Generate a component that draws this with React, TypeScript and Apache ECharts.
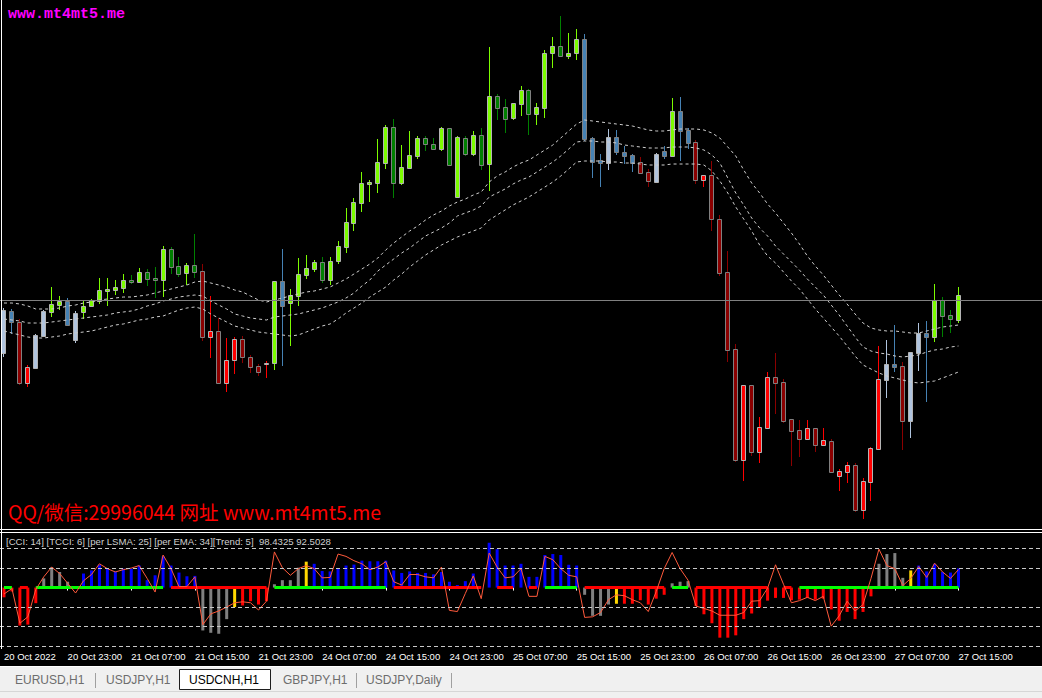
import React, { useEffect, useRef } from "react";
import * as echarts from "echarts";

// ---------- DATA (USDCNH, H1) ----------
const timeLabels = [
  "20 Oct 2022", "20 Oct 23:00", "21 Oct 07:00", "21 Oct 15:00", "21 Oct 23:00",
  "24 Oct 07:00", "24 Oct 15:00", "24 Oct 23:00", "25 Oct 07:00", "25 Oct 15:00",
  "25 Oct 23:00", "26 Oct 07:00", "26 Oct 15:00", "26 Oct 23:00", "27 Oct 07:00", "27 Oct 15:00",
];
const barsPerLabel = 8;
const slotCount = 131;

const open = [
  7.247, 7.289, 7.278, 7.217, 7.232, 7.264, 7.288, 7.295, 7.299, 7.260,
  7.288, 7.294, 7.299, 7.309, 7.310, 7.312, 7.320, 7.318, 7.328, 7.322,
  7.320, 7.351, 7.334, 7.327, 7.335, 7.329, 7.263, 7.269, 7.217, 7.240,
  7.261, 7.243, 7.234, 7.236, 7.237, 7.319, 7.297, 7.304, 7.325, 7.331,
  7.338, 7.320, 7.339, 7.353, 7.377, 7.397, 7.416, 7.417, 7.437, 7.473,
  7.417, 7.432, 7.444, 7.462, 7.456, 7.451, 7.472, 7.403, 7.462, 7.446,
  7.465, 7.436, 7.504, 7.493, 7.482, 7.496, 7.510, 7.486, 7.492, 7.547,
  7.554, 7.544, 7.547, 7.561, 7.462, 7.440, 7.437, 7.463, 7.448, 7.445,
  7.438, 7.428, 7.418, 7.449, 7.444, 7.489, 7.470, 7.458, 7.420, 7.425,
  7.381, 7.328, 7.251, 7.140, 7.215, 7.148, 7.172, 7.223, 7.218, 7.181,
  7.170, 7.161, 7.172, 7.155, 7.159, 7.124, 7.128, 7.135, 7.090, 7.118,
  7.151, 7.220, 7.236, 7.234, 7.179, 7.247, 7.267, 7.263, 7.300, 7.285,
  7.280,
];
const high = [
  7.292, 7.291, 7.281, 7.235, 7.266, 7.290, 7.313, 7.304, 7.302, 7.289,
  7.299, 7.301, 7.322, 7.322, 7.320, 7.326, 7.325, 7.332, 7.331, 7.333,
  7.354, 7.353, 7.343, 7.337, 7.366, 7.336, 7.304, 7.282, 7.262, 7.263,
  7.264, 7.245, 7.236, 7.239, 7.319, 7.351, 7.311, 7.342, 7.345, 7.340,
  7.343, 7.343, 7.359, 7.392, 7.402, 7.428, 7.420, 7.461, 7.475, 7.481,
  7.455, 7.469, 7.464, 7.464, 7.462, 7.473, 7.472, 7.464, 7.464, 7.469,
  7.472, 7.553, 7.506, 7.501, 7.497, 7.514, 7.511, 7.497, 7.550, 7.563,
  7.584, 7.567, 7.571, 7.566, 7.463, 7.446, 7.471, 7.470, 7.454, 7.446,
  7.443, 7.431, 7.447, 7.454, 7.502, 7.503, 7.472, 7.460, 7.425, 7.439,
  7.385, 7.349, 7.256, 7.215, 7.215, 7.183, 7.228, 7.247, 7.221, 7.181,
  7.180, 7.180, 7.172, 7.172, 7.161, 7.131, 7.138, 7.137, 7.122, 7.153,
  7.254, 7.260, 7.275, 7.238, 7.248, 7.277, 7.279, 7.316, 7.303, 7.290,
  7.313,
];
const low = [
  7.244, 7.267, 7.216, 7.214, 7.232, 7.264, 7.284, 7.291, 7.275, 7.258,
  7.282, 7.294, 7.297, 7.295, 7.306, 7.308, 7.317, 7.318, 7.315, 7.303,
  7.304, 7.327, 7.324, 7.316, 7.323, 7.260, 7.243, 7.217, 7.209, 7.227,
  7.238, 7.228, 7.225, 7.223, 7.231, 7.235, 7.255, 7.295, 7.322, 7.329,
  7.318, 7.316, 7.337, 7.348, 7.370, 7.389, 7.399, 7.408, 7.432, 7.403,
  7.416, 7.432, 7.442, 7.450, 7.451, 7.450, 7.435, 7.403, 7.445, 7.445,
  7.431, 7.410, 7.481, 7.468, 7.481, 7.485, 7.466, 7.476, 7.483, 7.533,
  7.544, 7.542, 7.541, 7.460, 7.423, 7.414, 7.431, 7.446, 7.437, 7.429,
  7.427, 7.414, 7.418, 7.442, 7.444, 7.440, 7.452, 7.417, 7.414, 7.370,
  7.325, 7.239, 7.139, 7.120, 7.145, 7.138, 7.172, 7.187, 7.178, 7.135,
  7.144, 7.161, 7.149, 7.155, 7.128, 7.110, 7.118, 7.089, 7.082, 7.100,
  7.151, 7.203, 7.229, 7.151, 7.163, 7.230, 7.199, 7.259, 7.264, 7.268,
  7.278,
];
const close = [
  7.290, 7.278, 7.217, 7.233, 7.265, 7.289, 7.296, 7.299, 7.275, 7.287,
  7.294, 7.300, 7.310, 7.311, 7.313, 7.320, 7.318, 7.328, 7.321, 7.320,
  7.351, 7.333, 7.326, 7.335, 7.328, 7.263, 7.269, 7.217, 7.240, 7.261,
  7.243, 7.233, 7.228, 7.237, 7.319, 7.294, 7.305, 7.326, 7.332, 7.338,
  7.320, 7.339, 7.354, 7.378, 7.398, 7.417, 7.418, 7.438, 7.473, 7.417,
  7.433, 7.445, 7.462, 7.456, 7.451, 7.472, 7.435, 7.463, 7.446, 7.465,
  7.435, 7.504, 7.492, 7.481, 7.497, 7.510, 7.486, 7.493, 7.547, 7.554,
  7.544, 7.547, 7.561, 7.461, 7.438, 7.437, 7.463, 7.448, 7.444, 7.437,
  7.427, 7.419, 7.446, 7.444, 7.489, 7.469, 7.457, 7.420, 7.425, 7.381,
  7.327, 7.250, 7.140, 7.215, 7.148, 7.173, 7.223, 7.217, 7.179, 7.169,
  7.161, 7.172, 7.155, 7.160, 7.128, 7.129, 7.135, 7.090, 7.119, 7.152,
  7.221, 7.236, 7.233, 7.179, 7.248, 7.267, 7.263, 7.300, 7.284, 7.281,
  7.305,
];
// candle trend colouring: U = up (green), N = neutral (steel blue), D = down (red)
const trend =
  "NNDDNNUUNN" + "UUUUUUUUUU" + "UUUUUDDDDD" + "DDDDUNUUUU" + "UUUUUUUUUU" +
  "UUUUUUUUUU" + "UUUUUUUUUU" + "UUUNNNNNNN" + "DDNNUNNDDD" + "DDDDDDDDDD" +
  "DDDDDDDDDD" + "DNNDNNNUUU" + "U";

const bandUpper = [
  7.297, 7.297, 7.296, 7.294, 7.291, 7.291, 7.291, 7.292, 7.294, 7.295,
  7.297, 7.298, 7.300, 7.301, 7.302, 7.303, 7.303, 7.304, 7.305, 7.307,
  7.309, 7.311, 7.313, 7.315, 7.318, 7.319, 7.317, 7.315, 7.313, 7.310,
  7.308, 7.304, 7.300, 7.298, 7.300, 7.302, 7.304, 7.306, 7.308, 7.309,
  7.311, 7.313, 7.317, 7.321, 7.326, 7.331, 7.336, 7.342, 7.350, 7.357,
  7.363, 7.369, 7.374, 7.380, 7.385, 7.389, 7.394, 7.398, 7.401, 7.405,
  7.408, 7.418, 7.424, 7.428, 7.433, 7.437, 7.440, 7.445, 7.450, 7.455,
  7.462, 7.469, 7.476, 7.480, 7.479, 7.478, 7.477, 7.476, 7.475, 7.474,
  7.472, 7.470, 7.469, 7.469, 7.470, 7.471, 7.471, 7.471, 7.470, 7.467,
  7.462, 7.453, 7.444, 7.430, 7.417, 7.407, 7.396, 7.387, 7.377, 7.367,
  7.356, 7.344, 7.334, 7.325, 7.315, 7.305, 7.296, 7.286, 7.277, 7.272,
  7.270, 7.269, 7.269, 7.268, 7.267, 7.267, 7.269, 7.271, 7.273, 7.274,
  7.275,
];
const bandMiddle = [
  7.281, 7.280, 7.279, 7.277, 7.277, 7.277, 7.278, 7.279, 7.280, 7.281,
  7.282, 7.283, 7.284, 7.285, 7.287, 7.288, 7.289, 7.291, 7.294, 7.296,
  7.299, 7.301, 7.303, 7.304, 7.305, 7.304, 7.299, 7.295, 7.291, 7.286,
  7.284, 7.282, 7.281, 7.280, 7.283, 7.284, 7.285, 7.286, 7.288, 7.290,
  7.292, 7.295, 7.298, 7.302, 7.307, 7.314, 7.320, 7.329, 7.335, 7.341,
  7.347, 7.352, 7.358, 7.364, 7.368, 7.372, 7.377, 7.384, 7.387, 7.390,
  7.394, 7.403, 7.407, 7.411, 7.416, 7.420, 7.423, 7.428, 7.433, 7.438,
  7.444, 7.451, 7.458, 7.459, 7.459, 7.458, 7.458, 7.457, 7.455, 7.454,
  7.453, 7.452, 7.452, 7.452, 7.453, 7.453, 7.453, 7.452, 7.450, 7.445,
  7.437, 7.422, 7.407, 7.395, 7.382, 7.372, 7.364, 7.354, 7.346, 7.338,
  7.330, 7.321, 7.313, 7.305, 7.295, 7.285, 7.274, 7.263, 7.253, 7.249,
  7.247, 7.246, 7.244, 7.243, 7.244, 7.245, 7.248, 7.250, 7.251, 7.253,
  7.254,
];
const bandLower = [
  7.269, 7.267, 7.265, 7.263, 7.262, 7.262, 7.263, 7.264, 7.266, 7.267,
  7.268, 7.269, 7.271, 7.273, 7.275, 7.276, 7.278, 7.280, 7.281, 7.283,
  7.284, 7.287, 7.290, 7.292, 7.293, 7.291, 7.286, 7.282, 7.278, 7.274,
  7.272, 7.270, 7.268, 7.267, 7.266, 7.265, 7.264, 7.265, 7.268, 7.271,
  7.274, 7.276, 7.281, 7.287, 7.292, 7.297, 7.303, 7.308, 7.313, 7.320,
  7.326, 7.333, 7.339, 7.345, 7.350, 7.355, 7.359, 7.363, 7.366, 7.369,
  7.372, 7.380, 7.385, 7.390, 7.395, 7.399, 7.403, 7.408, 7.413, 7.418,
  7.424, 7.431, 7.438, 7.439, 7.439, 7.439, 7.438, 7.438, 7.437, 7.437,
  7.436, 7.435, 7.435, 7.435, 7.436, 7.436, 7.436, 7.436, 7.435, 7.429,
  7.419, 7.407, 7.393, 7.381, 7.369, 7.355, 7.344, 7.337, 7.328, 7.319,
  7.311, 7.301, 7.291, 7.282, 7.273, 7.264, 7.254, 7.244, 7.235, 7.231,
  7.227, 7.224, 7.222, 7.220, 7.218, 7.217, 7.218, 7.219, 7.222, 7.225,
  7.228,
];

// indicator: CCI histogram, its colour state, TCCI line and zero-line trend state
const cciHist = [
  -50, -20, -195, -190, -80, 47, 105, 80, 30, 8,
  72, 88, 117, 97, 83, 97, 97, 113, 38, 63,
  160, 113, 77, 58, 60, -220, -232, -237, -162, -100,
  -92, -70, -87, -70, 17, 38, 38, 102, 133, 122,
  85, 83, 97, 113, 118, 138, 135, 135, 138, 88,
  75, 83, 75, 75, 68, 80, 30, 13, 33, 72,
  0, 230, 197, 113, 113, 122, 55, 55, 167, 172,
  167, 117, 113, -37, -145, -145, -87, -83, -83, -83,
  -65, -87, -57, -37, 22, 30, 33, -95, -137, -183,
  -257, -257, -245, -162, -133, -103, -67, -53, -53, -65,
  -62, -53, -62, -57, -112, -170, -125, -162, -125, -45,
  122, 172, 177, 50, 88, 113, 83, 122, 80, 77,
  98.4325,
];
const histState =
  "RRRRRSSSSY" + "BBBBBBBBBB" + "BBBBBSSSSY" + "RRRRSSSSYB" + "BBBBBBBBBB" +
  "BBBBBBBBBB" + "BBBBBBBBBB" + "BBBSSSSYRR" + "RRRRSSSRRR" + "RRRRRRRRRR" +
  "RRRRRRRRRR" + "SSSSYBBBBB" + "B";
const tcci = [
  -33, -5, -183, -150, -10, 55, 105, 72, 22, -28,
  35, 67, 122, 97, 80, 92, 100, 113, 47, -23,
  167, 97, 5, 5, 55, -190, -135, -120, -100, -78,
  -73, -78, -115, -70, 183, 102, 63, 97, 113, 97,
  50, 52, 172, 160, 138, 122, 92, 105, 133, 30,
  13, 67, 67, 55, 50, 105, -117, -123, -30, 60,
  -57, 177, 105, 50, 55, 97, -45, -45, 160, 143,
  97, 63, 55, -153, -150, -128, -62, -37, -42, -62,
  -78, -123, -20, 97, 180, 97, 38, -95, -107, -120,
  -142, -142, -142, -128, -70, -67, -3, 117, 17, -78,
  -67, -50, -67, -45, -198, -145, -70, -120, -87, 47,
  197, 113, 97, 10, 47, 108, 52, 125, 80, 47,
  92.5028,
];
const zeroState =
  "ggrrgggggg" + "gggggggggg" + "grrrrrrrrr" + "rrrrgggggg" + "gggggggggr" +
  "rrrrrrrrrr" + "r-rrr-rrgg" + "gggrrrrrrr" + "rrrrgggrrr" + "rrrrrrr-rr" +
  "gggggggggg" + "gggggggggg" + "g";
const levels = [200, 100, -100, -200, -300];

const tabNames = ["EURUSD,H1", "USDJPY,H1", "USDCNH,H1", "GBPJPY,H1", "USDJPY,Daily"];
const activeTab = 2;

// ---------- STYLES ----------
const candleColors: Record<string, { bull: string; bear: string }> = {
  U: { bull: "#7cfc00", bear: "#008000" },
  N: { bull: "#b0c4de", bear: "#4682b4" },
  D: { bull: "#ff0000", bear: "#8b0000" },
};
const histColors: Record<string, string> = {
  B: "#0000ff",
  S: "#808080",
  Y: "#ffd700",
  R: "#ff0000",
};
const tabX = [15, 106, 189, 283, 366];
const sepX = [95.5, 356.5, 451.5];

function buildOption() {
  const cats = Array.from({ length: slotCount }, (_, i) => String(i));
  const labelInterval = (idx: number) =>
    idx % barsPerLabel === 0 && idx / barsPerLabel < timeLabels.length;

  const candleData = open.map((o, i) => [i, o, close[i], low[i], high[i]]);

  const renderCandle = (params: any, api: any) => {
    const i = params.dataIndex;
    const o = api.value(1);
    const c = api.value(2);
    const l = api.value(3);
    const h = api.value(4);
    const pO = api.coord([i, o]);
    const pC = api.coord([i, c]);
    const pL = api.coord([i, l]);
    const pH = api.coord([i, h]);
    const x = Math.round(pO[0] - 0.5) + 0.5;
    const bull = c >= o;
    const pal = candleColors[trend[i]] || candleColors.N;
    const col = bull ? pal.bull : pal.bear;
    const top = Math.round(Math.min(pO[1], pC[1])) + 0.5;
    const bot = Math.round(Math.max(pO[1], pC[1])) + 0.5;
    return {
      type: "group",
      children: [
        {
          type: "line",
          shape: { x1: x, y1: Math.round(pH[1]), x2: x, y2: Math.round(pL[1]) + 1 },
          style: { stroke: col, lineWidth: 1 },
        },
        {
          type: "rect",
          shape: { x: x - 2, y: top, width: 4, height: Math.max(bot - top, 1) },
          style: { fill: col, stroke: bull ? "#b4b4b4" : "#808080", lineWidth: 1 },
        },
      ],
    };
  };

  const bandStyle = { color: "#cfcfcf", width: 1, type: [3, 3] as any };
  const bandSeries = (data: number[]) => ({
    type: "line",
    xAxisIndex: 0,
    yAxisIndex: 0,
    data,
    symbol: "none",
    silent: true,
    lineStyle: bandStyle,
    z: 3,
  });

  const lastClose = close[close.length - 1];

  return {
    animation: false,
    backgroundColor: "#000000",
    grid: [
      { left: -1.5, top: 0, width: slotCount * 8, height: 528 },
      { left: -1.5, top: 533, width: slotCount * 8, height: 115 },
    ],
    xAxis: [
      {
        type: "category",
        gridIndex: 0,
        data: cats,
        boundaryGap: true,
        axisLine: { show: false },
        axisTick: { show: false },
        axisLabel: { show: false },
        splitLine: { show: false },
      },
      {
        type: "category",
        gridIndex: 1,
        data: cats,
        boundaryGap: true,
        axisLine: { show: false },
        axisTick: {
          show: true,
          alignWithLabel: true,
          interval: labelInterval,
          length: 3,
          lineStyle: { color: "#ffffff", width: 1 },
        },
        axisLabel: {
          interval: labelInterval,
          formatter: (_v: string, idx: number) => timeLabels[idx / barsPerLabel] || "",
          color: "#ffffff",
          fontSize: 9.5,
          fontFamily: "Liberation Sans, Arial, sans-serif",
          align: "left",
          margin: 3,
        },
        splitLine: { show: false },
      },
    ],
    yAxis: [
      { type: "value", gridIndex: 0, min: 7.072, max: 7.6, show: false, splitLine: { show: false } },
      { type: "value", gridIndex: 1, min: -310, max: 280, show: false, splitLine: { show: false } },
    ],
    series: [
      {
        type: "custom",
        xAxisIndex: 0,
        yAxisIndex: 0,
        data: candleData,
        encode: { x: 0, y: [1, 2, 3, 4] },
        renderItem: renderCandle,
        silent: true,
        z: 2,
      },
      bandSeries(bandUpper),
      {
        ...bandSeries(bandMiddle),
        markLine: {
          silent: true,
          symbol: ["none", "none"],
          label: { show: false },
          lineStyle: { color: "#808080", type: "solid", width: 1 },
          data: [{ yAxis: lastClose }],
        },
      },
      bandSeries(bandLower),
      {
        type: "bar",
        xAxisIndex: 1,
        yAxisIndex: 1,
        barWidth: 3,
        silent: true,
        data: cciHist.map((v, i) => ({
          value: v,
          itemStyle: { color: histColors[histState[i]] },
        })),
        markLine: {
          silent: true,
          symbol: ["none", "none"],
          label: { show: false },
          lineStyle: { color: "#c8c8c8", type: [4, 3], width: 1 },
          data: levels.map((v) => ({ yAxis: v })),
        },
        z: 2,
      },
      {
        type: "line",
        xAxisIndex: 1,
        yAxisIndex: 1,
        symbol: "none",
        silent: true,
        data: zeroState.split("").map((s) => (s === "g" ? 0 : null)),
        lineStyle: { color: "#00ff00", width: 3 },
        z: 3,
      },
      {
        type: "line",
        xAxisIndex: 1,
        yAxisIndex: 1,
        symbol: "none",
        silent: true,
        data: zeroState.split("").map((s) => (s === "r" ? 0 : null)),
        lineStyle: { color: "#ff0000", width: 3 },
        z: 3,
      },
      {
        type: "line",
        xAxisIndex: 1,
        yAxisIndex: 1,
        symbol: "none",
        silent: true,
        data: tcci,
        lineStyle: { color: "#ff5a3c", width: 1 },
        z: 4,
      },
    ],
    graphic: [
      { type: "line", z: 50, shape: { x1: 1.5, y1: 0, x2: 1.5, y2: 649 }, style: { stroke: "#ffffff", lineWidth: 1 } },
      { type: "line", z: 50, shape: { x1: 0, y1: 529.5, x2: 1042, y2: 529.5 }, style: { stroke: "#ffffff", lineWidth: 1 } },
      { type: "line", z: 50, shape: { x1: 0, y1: 532.5, x2: 1042, y2: 532.5 }, style: { stroke: "#ffffff", lineWidth: 1 } },
      {
        type: "text",
        z: 60,
        x: 8,
        y: 14,
        style: {
          text: "www.mt4mt5.me",
          fill: "#ff00ff",
          font: 'bold 15px "Liberation Mono", "DejaVu Sans Mono", monospace',
          verticalAlign: "middle",
          align: "left",
        },
      },
      {
        type: "text",
        z: 60,
        x: 8,
        y: 511,
        style: {
          text: "QQ/微信:29996044 网址 www.mt4mt5.me",
          fill: "#ff0000",
          font: '19.5px "Noto Sans CJK SC", "Noto Sans", sans-serif',
          verticalAlign: "middle",
          align: "left",
        },
      },
      {
        type: "text",
        z: 60,
        x: 6,
        y: 541,
        style: {
          text: "[CCI: 14] [TCCI: 6] [per LSMA: 25] [per EMA: 34][Trend: 5]  98.4325 92.5028",
          fill: "#cfcfcf",
          font: '9.6px "Liberation Sans", Arial, sans-serif',
          verticalAlign: "middle",
          align: "left",
        },
      },
      { type: "rect", z: 40, shape: { x: 0, y: 666, width: 1042, height: 32 }, style: { fill: "#f0f0f0" } },
      { type: "line", z: 41, shape: { x1: 0, y1: 666.5, x2: 1042, y2: 666.5 }, style: { stroke: "#ffffff", lineWidth: 1 } },
      { type: "line", z: 41, shape: { x1: 0, y1: 691.5, x2: 1042, y2: 691.5 }, style: { stroke: "#d6d6d6", lineWidth: 1 } },
      {
        type: "rect",
        z: 42,
        shape: { x: 179.5, y: 669.5, width: 91, height: 20 },
        style: { fill: "#ffffff", stroke: "#1e1e1e", lineWidth: 1 },
      },
      ...sepX.map((x) => ({
        type: "line",
        z: 42,
        shape: { x1: x, y1: 673, x2: x, y2: 688 },
        style: { stroke: "#a0a0a0", lineWidth: 1 },
      })),
      ...tabNames.map((name, k) => ({
        type: "text",
        z: 43,
        x: tabX[k],
        y: 680,
        style: {
          text: name,
          fill: k === activeTab ? "#000000" : "#6d6d6d",
          font: '12px "Liberation Sans", Arial, sans-serif',
          verticalAlign: "middle",
          align: "left",
        },
      })),
    ],
  };
}

export default function App() {
  const ref = useRef<HTMLDivElement>(null);
  useEffect(() => {
    if (!ref.current) return;
    const chart = echarts.init(ref.current, null, { renderer: "svg" });
    chart.setOption(buildOption() as any);
    return () => chart.dispose();
  }, []);
  return (
    <div
      ref={ref}
      style={{ position: "fixed", left: 0, top: 0, width: 1042, height: 698 }}
    />
  );
}
